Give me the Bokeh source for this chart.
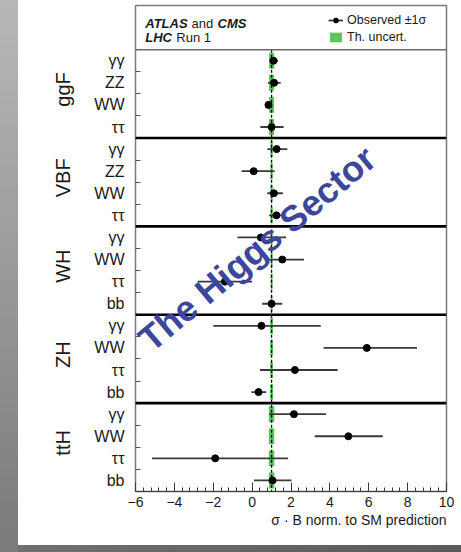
from bokeh.plotting import figure
from bokeh.models import (Range1d, FixedTicker, SingleIntervalTicker, LinearAxis, Span, Label,
                          Legend, LegendItem, ColumnDataSource, Title, Div, CustomJSTickFormatter)
from bokeh.layouts import row, column
from bokeh.core.properties import value
from bokeh.embed import file_html
from bokeh.resources import INLINE

# ---------------- data ----------------
productions = ["ggF", "VBF", "WH", "ZH", "ttH"]
decay_labels = ["γγ", "ZZ", "WW", "ττ",
                "γγ", "ZZ", "WW", "ττ",
                "γγ", "WW", "ττ", "bb",
                "γγ", "WW", "ττ", "bb",
                "γγ", "WW", "ττ", "bb"]
mu_obs = [1.10, 1.13, 0.84, 1.00,
          1.26, 0.08, 1.12, 1.25,
          0.45, 1.55, -1.40, 1.00,
          0.48, 5.90, 2.20, 0.33,
          2.15, 4.95, -1.90, 1.05]
err_lo = [0.22, 0.31, 0.17, 0.58,
          0.48, 0.62, 0.34, 0.38,
          1.20, 0.78, 1.40, 0.48,
          2.48, 2.22, 1.80, 0.37,
          1.28, 1.73, 3.25, 0.95]
err_hi = [0.23, 0.34, 0.17, 0.62,
          0.55, 1.08, 0.46, 0.40,
          1.30, 1.12, 1.40, 0.55,
          3.05, 2.58, 2.20, 0.40,
          1.65, 1.77, 3.75, 0.97]
th_unc_by_production = [0.13, 0.06, 0.05, 0.07, 0.14]
sm_prediction = 1.0
x_ticks = [-6, -4, -2, 0, 2, 4, 6, 8, 10]

# ---------------- derived ----------------
n_rows = len(decay_labels)
rows_per_group = 4
y_center = [i + 0.5 for i in range(n_rows)]
th_half = [th_unc_by_production[i // rows_per_group] for i in range(n_rows)]
src = ColumnDataSource(dict(
    y=y_center, mu=mu_obs,
    lo=[m - e for m, e in zip(mu_obs, err_lo)],
    hi=[m + e for m, e in zip(mu_obs, err_hi)],
    sm=[sm_prediction] * n_rows,
    thw=[2 * t for t in th_half],
))

FONT = "Liberation Sans"

p = figure(width=443, height=545, x_range=Range1d(x_ticks[0], x_ticks[-1]),
           y_range=Range1d(n_rows, -2),
           output_backend="svg", toolbar_location=None,
           min_border_left=117, min_border_right=15, min_border_top=5, min_border_bottom=54,
           background_fill_color="white", border_fill_color="white",
           outline_line_color="#7a7a7a", outline_line_width=1.5)
p.xgrid.visible = False
p.ygrid.visible = False

# theory uncertainty boxes
th_r = p.rect(x="sm", y="y", width="thw", height=0.72, source=src,
              fill_color="#5fc35f", line_color=None)
# SM dashed line
p.segment(x0=[sm_prediction], y0=[0], x1=[sm_prediction], y1=[n_rows],
          line_color="black", line_width=1.3, line_dash="3 2")
# error bars and points
eb_r = p.segment(x0="lo", y0="y", x1="hi", y1="y", source=src,
                 line_color="#3a3a3a", line_width=1.8)
pt_r = p.scatter(x="mu", y="y", source=src, size=7, fill_color="black", line_color="black")

# separators
p.add_layout(Span(location=0, dimension="width", line_color="#6a6a6a", line_width=1.5))
for b in range(rows_per_group, n_rows, rows_per_group):
    p.add_layout(Span(location=b, dimension="width", line_color="black", line_width=2.6))

# x axis
xa = p.xaxis[0]
xa.ticker = SingleIntervalTicker(interval=2, num_minor_ticks=5)
xa.formatter = CustomJSTickFormatter(code="return tick < 0 ? '\u2212' + Math.abs(tick) : String(tick);")
xa.major_tick_in = 9
xa.major_tick_out = 0
xa.minor_tick_in = 4
xa.minor_tick_out = 0
xa.axis_line_color = "#3a3a3a"
xa.major_tick_line_color = "#3a3a3a"
xa.minor_tick_line_color = "#3a3a3a"
xa.major_label_text_font = FONT
xa.major_label_text_font_size = "14px"
xa.major_label_text_color = "#1a1a1a"
xa.major_label_standoff = 5

p.add_layout(Title(text="σ · B norm. to SM prediction", align="right", text_font=FONT,
                   text_font_size="14px", text_font_style="normal", text_color="#1a1a1a",
                   standoff=0, offset=0), "below")

# y axis (decay labels)
ya = p.yaxis[0]
ya.ticker = FixedTicker(ticks=y_center, minor_ticks=list(range(1, n_rows)))
ya.formatter = CustomJSTickFormatter(args=dict(labels=decay_labels),
                                     code="return labels[Math.floor(tick)] || '';")
ya.axis_line_color = None
ya.major_tick_line_color = None
ya.minor_tick_in = 5
ya.minor_tick_out = 0
ya.minor_tick_line_color = "#555555"
ya.major_label_text_font = FONT
ya.major_label_text_font_size = "16px"
ya.major_label_text_color = "#1a1a1a"
ya.major_label_standoff = 5

# production labels axis
group_ticks = [g * rows_per_group + rows_per_group / 2 - 0.2 for g in range(len(productions))]
ga = LinearAxis(ticker=FixedTicker(ticks=group_ticks),
                formatter=CustomJSTickFormatter(args=dict(names=productions),
                                                code="return names[Math.floor(tick / 4)] || '';"),
                major_label_orientation="vertical", axis_line_color=None,
                major_tick_line_color=None, minor_tick_line_color=None,
                major_label_text_font=FONT, major_label_text_font_size="20px",
                major_label_text_color="#1a1a1a", major_label_standoff=11)
p.add_layout(ga, "left")

# header texts
p.text(x=[-5.50], y=[-1.19], text=["ATLAS"], text_font=value(FONT), text_font_style="bold italic",
       text_font_size="13px", text_baseline="middle", text_color="#1a1a1a")
p.text(x=[-3.12], y=[-1.19], text=["and"], text_font=value(FONT), text_font_style="normal",
       text_font_size="13px", text_baseline="middle", text_color="#1a1a1a")
p.text(x=[-1.78], y=[-1.19], text=["CMS"], text_font=value(FONT), text_font_style="bold italic",
       text_font_size="13px", text_baseline="middle", text_color="#1a1a1a")
p.text(x=[-5.50], y=[-0.55], text=["LHC"], text_font=value(FONT), text_font_style="bold italic",
       text_font_size="13px", text_baseline="middle", text_color="#1a1a1a")
p.text(x=[-3.90], y=[-0.55], text=["Run 1"], text_font=value(FONT), text_font_style="normal",
       text_font_size="13px", text_baseline="middle", text_color="#1a1a1a")

legend = Legend(items=[LegendItem(label="Observed ±1σ", renderers=[eb_r, pt_r]),
                       LegendItem(label="Th. uncert.", renderers=[th_r])],
                location=(193, 447), padding=0, margin=0, spacing=3,
                glyph_width=15, glyph_height=12, label_height=14, label_standoff=4,
                label_text_font=FONT, label_text_font_size="12.5px", label_text_color="#1a1a1a",
                border_line_color=None, background_fill_alpha=0)
p.add_layout(legend)

# watermark
p.add_layout(Label(x=0.25, y=9.0, text="The Higgs Sector", angle=40, angle_units="deg",
                   text_align="center", text_baseline="middle", text_font=FONT,
                   text_font_style="bold", text_font_size="36px", text_color="#3c479c"))

left_strip = Div(text="", width=18, height=552, margin=0,
                 styles={"background": "linear-gradient(to bottom, #b8b8b8, #7a7a7a)"})
bottom_strip = Div(text="", width=443, height=7, margin=0,
                   styles={"background": "linear-gradient(to right, #707070, #5a5a5a)"})
layout = row(left_strip, column(p, bottom_strip, spacing=0), spacing=0)

open("out.html", "w").write(file_html(layout, INLINE))
